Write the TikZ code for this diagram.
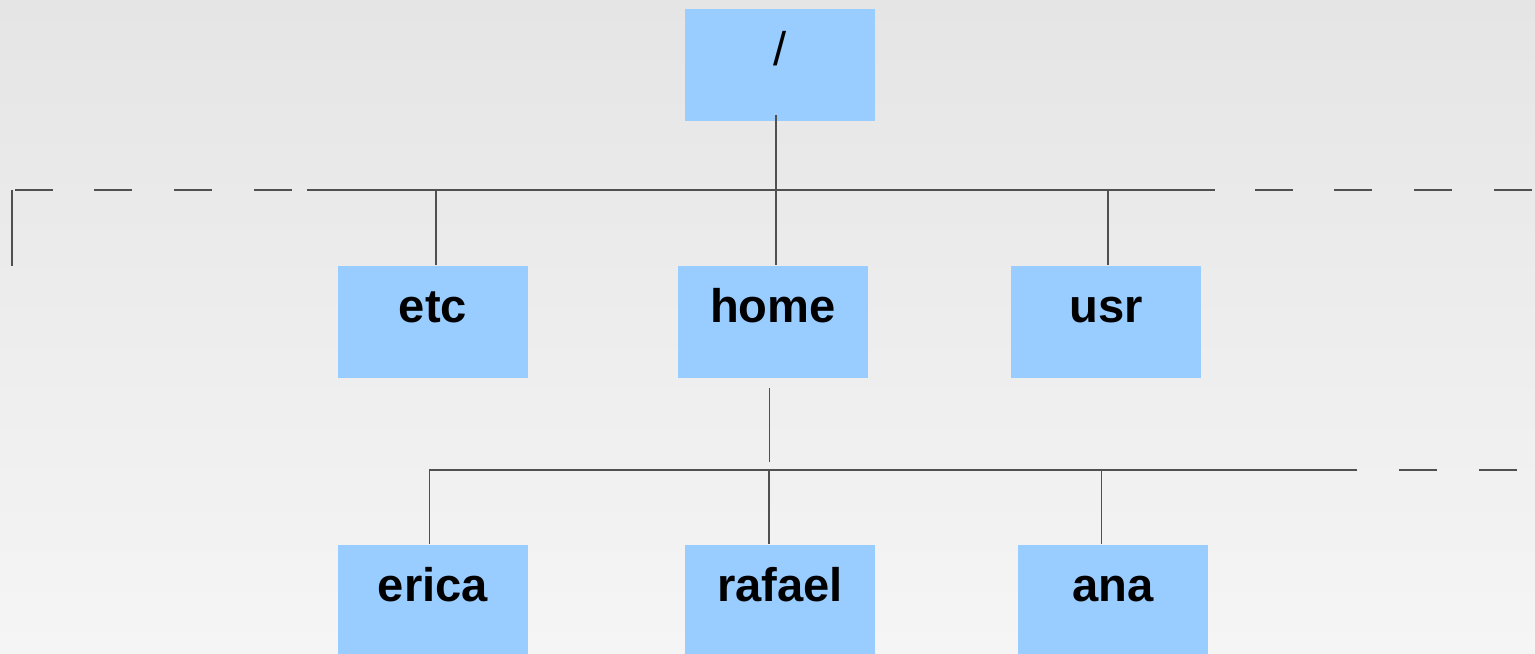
\documentclass[tikz,border=0pt]{standalone}
\usepackage{fontspec}
\setmainfont{Liberation Sans}
\begin{document}
\begin{tikzpicture}[x=0.01cm,y=-0.01cm,line width=0.4pt,
  folderbox/.style={fill=folderblue,minimum width=1.89cm,minimum height=1.12cm,
    inner sep=0pt,text height=4mm,text depth=4mm,
    font=\fontsize{13.4}{16}\selectfont\bfseries},
  link/.style={draw=wiregrey},
  trail/.style={draw=wiregrey,dash pattern=on 10.8pt off 11.9pt}]

  \definecolor{folderblue}{RGB}{153,204,255} % light blue
  \definecolor{wiregrey}{RGB}{80,80,80} % dark grey
  \definecolor{topgrey}{RGB}{229,229,229} % top grey
  \definecolor{lowgrey}{RGB}{245,245,245} % bottom grey

  % Background
  \useasboundingbox (0,0) rectangle (1535,653);
  \clip (0,0) rectangle (1535,653);
  \shade[top color=topgrey,bottom color=lowgrey] (0,0) rectangle (1535,653);

  % Bus lines
  \coordinate (bus) at (0,190);
  \coordinate (sub) at (0,470);

  % Directories
  \node[folderbox,font=\fontsize{13.4}{16}\selectfont] (root) at (780,65) {/};
  \node[folderbox] (etc) at (433,322) {etc};
  \node[folderbox] (home) at (773,322) {home};
  \node[folderbox] (usr) at (1106,322) {usr};
  \node[folderbox] (erica) at (433,601) {erica};
  \node[folderbox] (rafael) at (780,601) {rafael};
  \node[folderbox] (ana) at (1113,601) {ana};

  % First level
  \draw[link] (307,190) -- (1215,190);
  \draw[trail] (292,190) -- (12,190);
  \draw[trail] (1532,190) -- (1215,190);
  \draw[link] (12,190) -- (12,266);
  \draw[link] ([xshift=-0.04cm,yshift=0.07cm]root.south)
      -- ([xshift=-0.04cm]root.south |- home.north);
  \draw[link] ([xshift=0.03cm]etc.north |- bus) -- ([xshift=0.03cm]etc.north);
  \draw[link] ([xshift=0.02cm]usr.north |- bus) -- ([xshift=0.02cm]usr.north);

  % Second level
  \draw[link] ([xshift=-0.035cm,yshift=-0.09cm]home.south)
      -- ([xshift=-0.035cm,yshift=0.08cm]home.south |- sub);
  \draw[link] (429,470) -- (1350,470);
  \draw[trail] (1517,470) -- (1237,470);
  \draw[link] ([xshift=-0.035cm]erica.north |- sub) -- ([xshift=-0.035cm]erica.north);
  \draw[link] ([xshift=-0.11cm]rafael.north |- sub) -- ([xshift=-0.11cm]rafael.north);
  \draw[link] ([xshift=-0.115cm]ana.north |- sub) -- ([xshift=-0.115cm]ana.north);

\end{tikzpicture}
\end{document}
